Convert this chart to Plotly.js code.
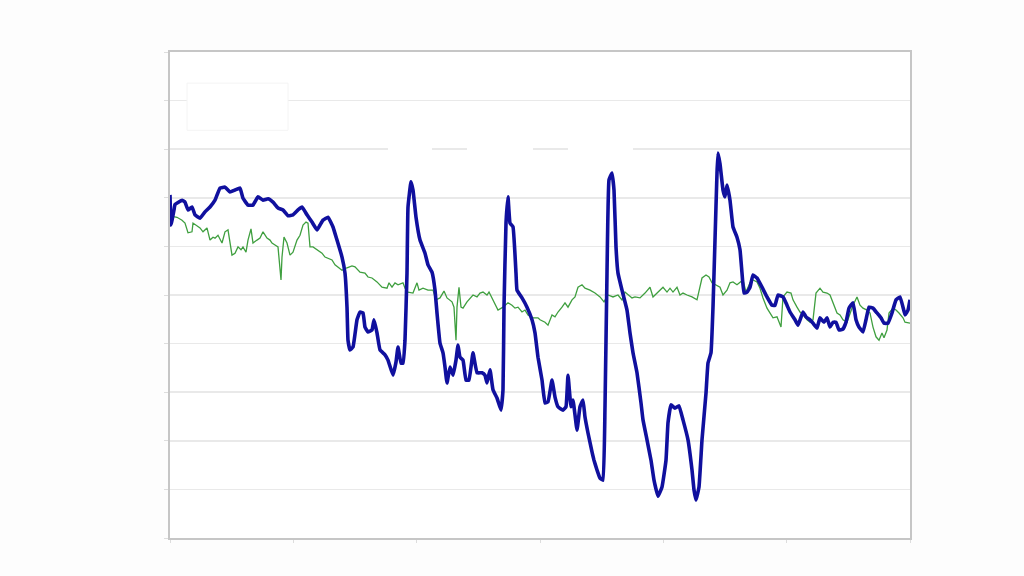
<!DOCTYPE html>
<html>
<head>
<meta charset="utf-8">
<script src="https://cdn.plot.ly/plotly-3.0.1.min.js"></script>
<style>html,body{margin:0;padding:0;background:#fdfdfd;}#chart{width:1024px;height:576px;}</style>
</head>
<body>
<div id="chart"></div>
<script>
// Blue series (thick)
var blueX = [0,1,4,5,12,15,18,22,25,30,35,40,45,50,55,60,65,70,73,78,83,88,93,98,103,108,113,118,123,128,132,137,142,147,150,153,158,163,167,172,175,177,178,180,183,187,190,193,195,198,202,204,207,210,215,218,223,226,228,231,233,235,237,238,241,243,246,250,255,258,262,265,267,270,273,275,277,280,283,286,288,290,293,296,299,303,307,312,315,317,320,323,327,331,333,334,336,338,340,343,346,347,352,357,362,365,368,372,375,378,382,385,388,393,396,398,401,403,407,410,413,415,418,422,424,427,430,433,435,437,439,442,444,446,448,452,457,460,463,467,471,473,477,481,484,488,492,496,498,501,505,509,513,518,522,524,526,529,532,536,538,541,543,545,547,548,550,553,555,557,560,563,567,570,572,574,577,580,583,587,592,597,602,605,608,613,617,620,625,628,633,636,640,643,647,650,654,657,660,663,666,669,673,676,679,683,686,689,693,696,699,703,707,711,714,718,722,726,730,733,735,738,740];
var blueY = [70.6,64.4,67.5,68.6,69.5,69.1,67.5,68.1,66.5,65.8,67.1,68.1,69.5,72.0,72.2,71.2,71.6,72.0,69.9,68.5,68.5,70.2,69.5,69.8,69.1,67.9,67.5,66.3,66.5,67.5,68.1,66.5,65.0,63.4,64.4,65.4,66.0,64.0,61.3,57.8,54.5,47.5,40.7,38.7,39.3,44.9,46.5,46.3,43.4,42.4,42.8,44.9,42.2,38.7,37.7,36.6,33.5,36.2,39.3,36.0,36.0,40.7,54.5,68.1,73.3,71.6,66.0,61.3,58.6,56.2,54.7,51.0,46.3,40.1,38.1,35.2,31.9,35.2,33.5,36.6,39.7,37.2,36.6,32.5,32.5,38.1,34.0,34.0,33.5,31.9,34.6,30.5,28.8,26.3,30.5,47.5,64.8,70.2,64.8,64.0,54.5,51.0,49.4,47.5,44.9,42.2,37.2,32.5,27.8,28.0,32.5,29.0,27.0,26.3,27.0,33.5,27.0,28.4,22.2,27.0,28.4,24.9,21.6,17.7,16.0,14.0,12.3,11.9,27.0,54.5,73.7,75.1,71.6,59.9,54.5,51.0,46.9,42.2,38.1,34.0,27.8,24.3,20.2,16.0,11.9,8.6,10.5,16.0,23.7,27.4,26.7,27.2,24.3,20.2,14.0,9.9,7.8,10.5,20.2,29.8,36.0,38.1,47.5,61.3,75.1,79.2,77.0,71.6,70.2,72.6,69.5,64.0,61.9,59.3,54.5,50.4,50.6,51.6,54.1,53.5,51.6,49.6,47.9,47.9,50.0,49.6,47.9,46.5,44.9,43.8,46.5,45.5,44.9,44.2,43.2,45.3,44.4,45.3,43.4,44.4,44.4,42.8,43.0,44.4,47.3,48.4,44.9,43.4,42.4,44.9,47.5,47.3,46.3,45.3,44.2,44.2,46.3,49.0,49.6,47.5,45.9,46.9,49.0];

// Green series (thin)
var greenX = [0,7,12,15,18,22,23,27,30,33,37,40,43,45,48,52,55,58,62,65,68,71,73,76,78,81,83,87,90,93,97,100,102,105,108,111,112,114,117,120,123,127,130,133,136,138,140,143,147,152,155,158,162,165,168,172,177,182,185,190,195,198,202,207,212,217,219,222,225,228,233,235,238,243,247,249,253,258,263,266,270,274,277,282,284,286,287,289,291,293,297,300,303,307,310,313,317,319,322,325,328,333,338,342,345,348,352,355,358,363,368,370,375,378,382,385,388,392,395,398,402,405,408,412,415,420,425,430,434,438,443,448,452,455,458,462,465,470,475,480,483,487,490,493,497,500,503,507,510,513,517,522,527,529,532,536,539,542,545,550,553,557,560,563,567,570,573,576,580,583,587,590,593,597,600,603,607,609,611,613,617,621,623,627,630,633,637,640,643,646,650,653,657,660,663,667,670,673,677,680,683,687,690,693,697,700,703,706,709,712,714,717,719,723,726,729,733,735,739,740];
var greenY = [66.3,66.0,65.4,64.8,62.8,63.0,64.8,64.2,63.8,63.0,63.8,61.3,61.9,61.7,62.3,60.7,63.0,63.4,58.2,58.6,59.9,59.3,59.9,58.8,61.3,63.6,60.7,61.3,61.7,63.0,61.7,61.3,60.7,60.3,59.9,53.1,57.8,61.9,60.7,58.2,58.8,61.3,62.3,64.4,65.0,64.8,59.9,59.9,59.3,58.6,57.8,57.6,57.2,56.2,55.8,55.1,55.6,56.0,55.8,54.7,54.5,53.7,53.5,52.7,51.6,51.4,52.5,51.6,52.5,52.1,52.5,51.4,50.6,50.4,52.5,51.0,51.4,51.0,51.0,49.0,49.4,50.8,49.4,48.6,47.5,40.7,47.5,51.6,47.5,47.3,48.6,49.4,50.0,49.6,50.4,50.6,50.0,50.6,49.4,47.9,46.9,47.5,48.4,47.9,47.3,47.5,46.5,46.9,45.9,45.3,45.3,44.9,44.4,43.8,45.9,45.5,46.5,47.5,48.4,47.5,49.0,49.6,51.6,52.1,51.4,51.0,50.4,49.6,48.6,50.0,49.6,50.0,49.0,50.6,50.0,49.4,49.6,49.4,50.4,51.6,49.6,50.4,51.0,51.6,50.6,51.4,50.6,51.6,50.0,50.4,50.0,49.6,49.0,51.0,53.5,54.1,53.7,52.5,52.1,51.6,50.0,51.0,52.5,52.7,52.1,52.7,53.1,50.6,52.5,53.1,52.7,51.4,49.4,47.3,46.3,45.3,45.5,44.4,43.4,49.6,50.6,50.4,49.0,47.5,46.5,45.9,44.9,44.4,44.9,50.4,51.4,50.6,50.4,50.0,48.4,46.3,45.9,44.9,44.4,46.3,47.9,49.6,47.9,47.3,46.9,46.3,43.4,41.4,40.7,42.2,41.2,42.8,46.3,47.3,46.9,46.3,45.3,44.4,44.2,44.2];

var traces = [
  {x: greenX, y: greenY, type: 'scatter', mode: 'lines',
   line: {color: '#3f9f3f', width: 1.3}, hoverinfo: 'skip'},
  {x: blueX, y: blueY, type: 'scatter', mode: 'lines',
   line: {color: '#10109e', width: 3.6, shape: 'spline', smoothing: 0.3}, hoverinfo: 'skip'}
];

var layout = {
  width: 1024, height: 576,
  margin: {l: 170, r: 114, t: 52, b: 38, pad: 0},
  paper_bgcolor: '#fdfdfd',
  plot_bgcolor: '#ffffff',
  showlegend: false,
  xaxis: {
    range: [0, 740], tick0: 0, dtick: 740/6,
    showgrid: false, zeroline: false,
    showticklabels: false, ticks: 'outside', ticklen: 3, tickcolor: '#dddddd',
    showline: true, linecolor: '#c6c6c6', linewidth: 2, mirror: true
  },
  yaxis: {
    range: [0, 100], tick0: 0, dtick: 10,
    showgrid: true, gridcolor: '#e9e9e9', gridwidth: 1.5,
    zeroline: false, showticklabels: false,
    ticks: 'outside', ticklen: 4, tickcolor: '#dddddd',
    showline: true, linecolor: '#c6c6c6', linewidth: 2, mirror: true
  },
  shapes: [
    {type: 'rect', xref: 'x', yref: 'y', x0: 17, x1: 118, y0: 83.9, y1: 93.6,
     fillcolor: '#ffffff', line: {color: '#f4f4f4', width: 1}, layer: 'between'},
    {type: 'rect', xref: 'x', yref: 'y', x0: 218, x1: 262, y0: 78.5, y1: 81.5,
     fillcolor: '#ffffff', line: {width: 0}, layer: 'between'},
    {type: 'rect', xref: 'x', yref: 'y', x0: 297, x1: 363, y0: 78.5, y1: 81.5,
     fillcolor: '#ffffff', line: {width: 0}, layer: 'between'},
    {type: 'rect', xref: 'x', yref: 'y', x0: 398, x1: 463, y0: 78.5, y1: 81.5,
     fillcolor: '#ffffff', line: {width: 0}, layer: 'between'}
  ]
};

Plotly.newPlot('chart', traces, layout, {displayModeBar: false, staticPlot: true});
</script>
</body>
</html>
